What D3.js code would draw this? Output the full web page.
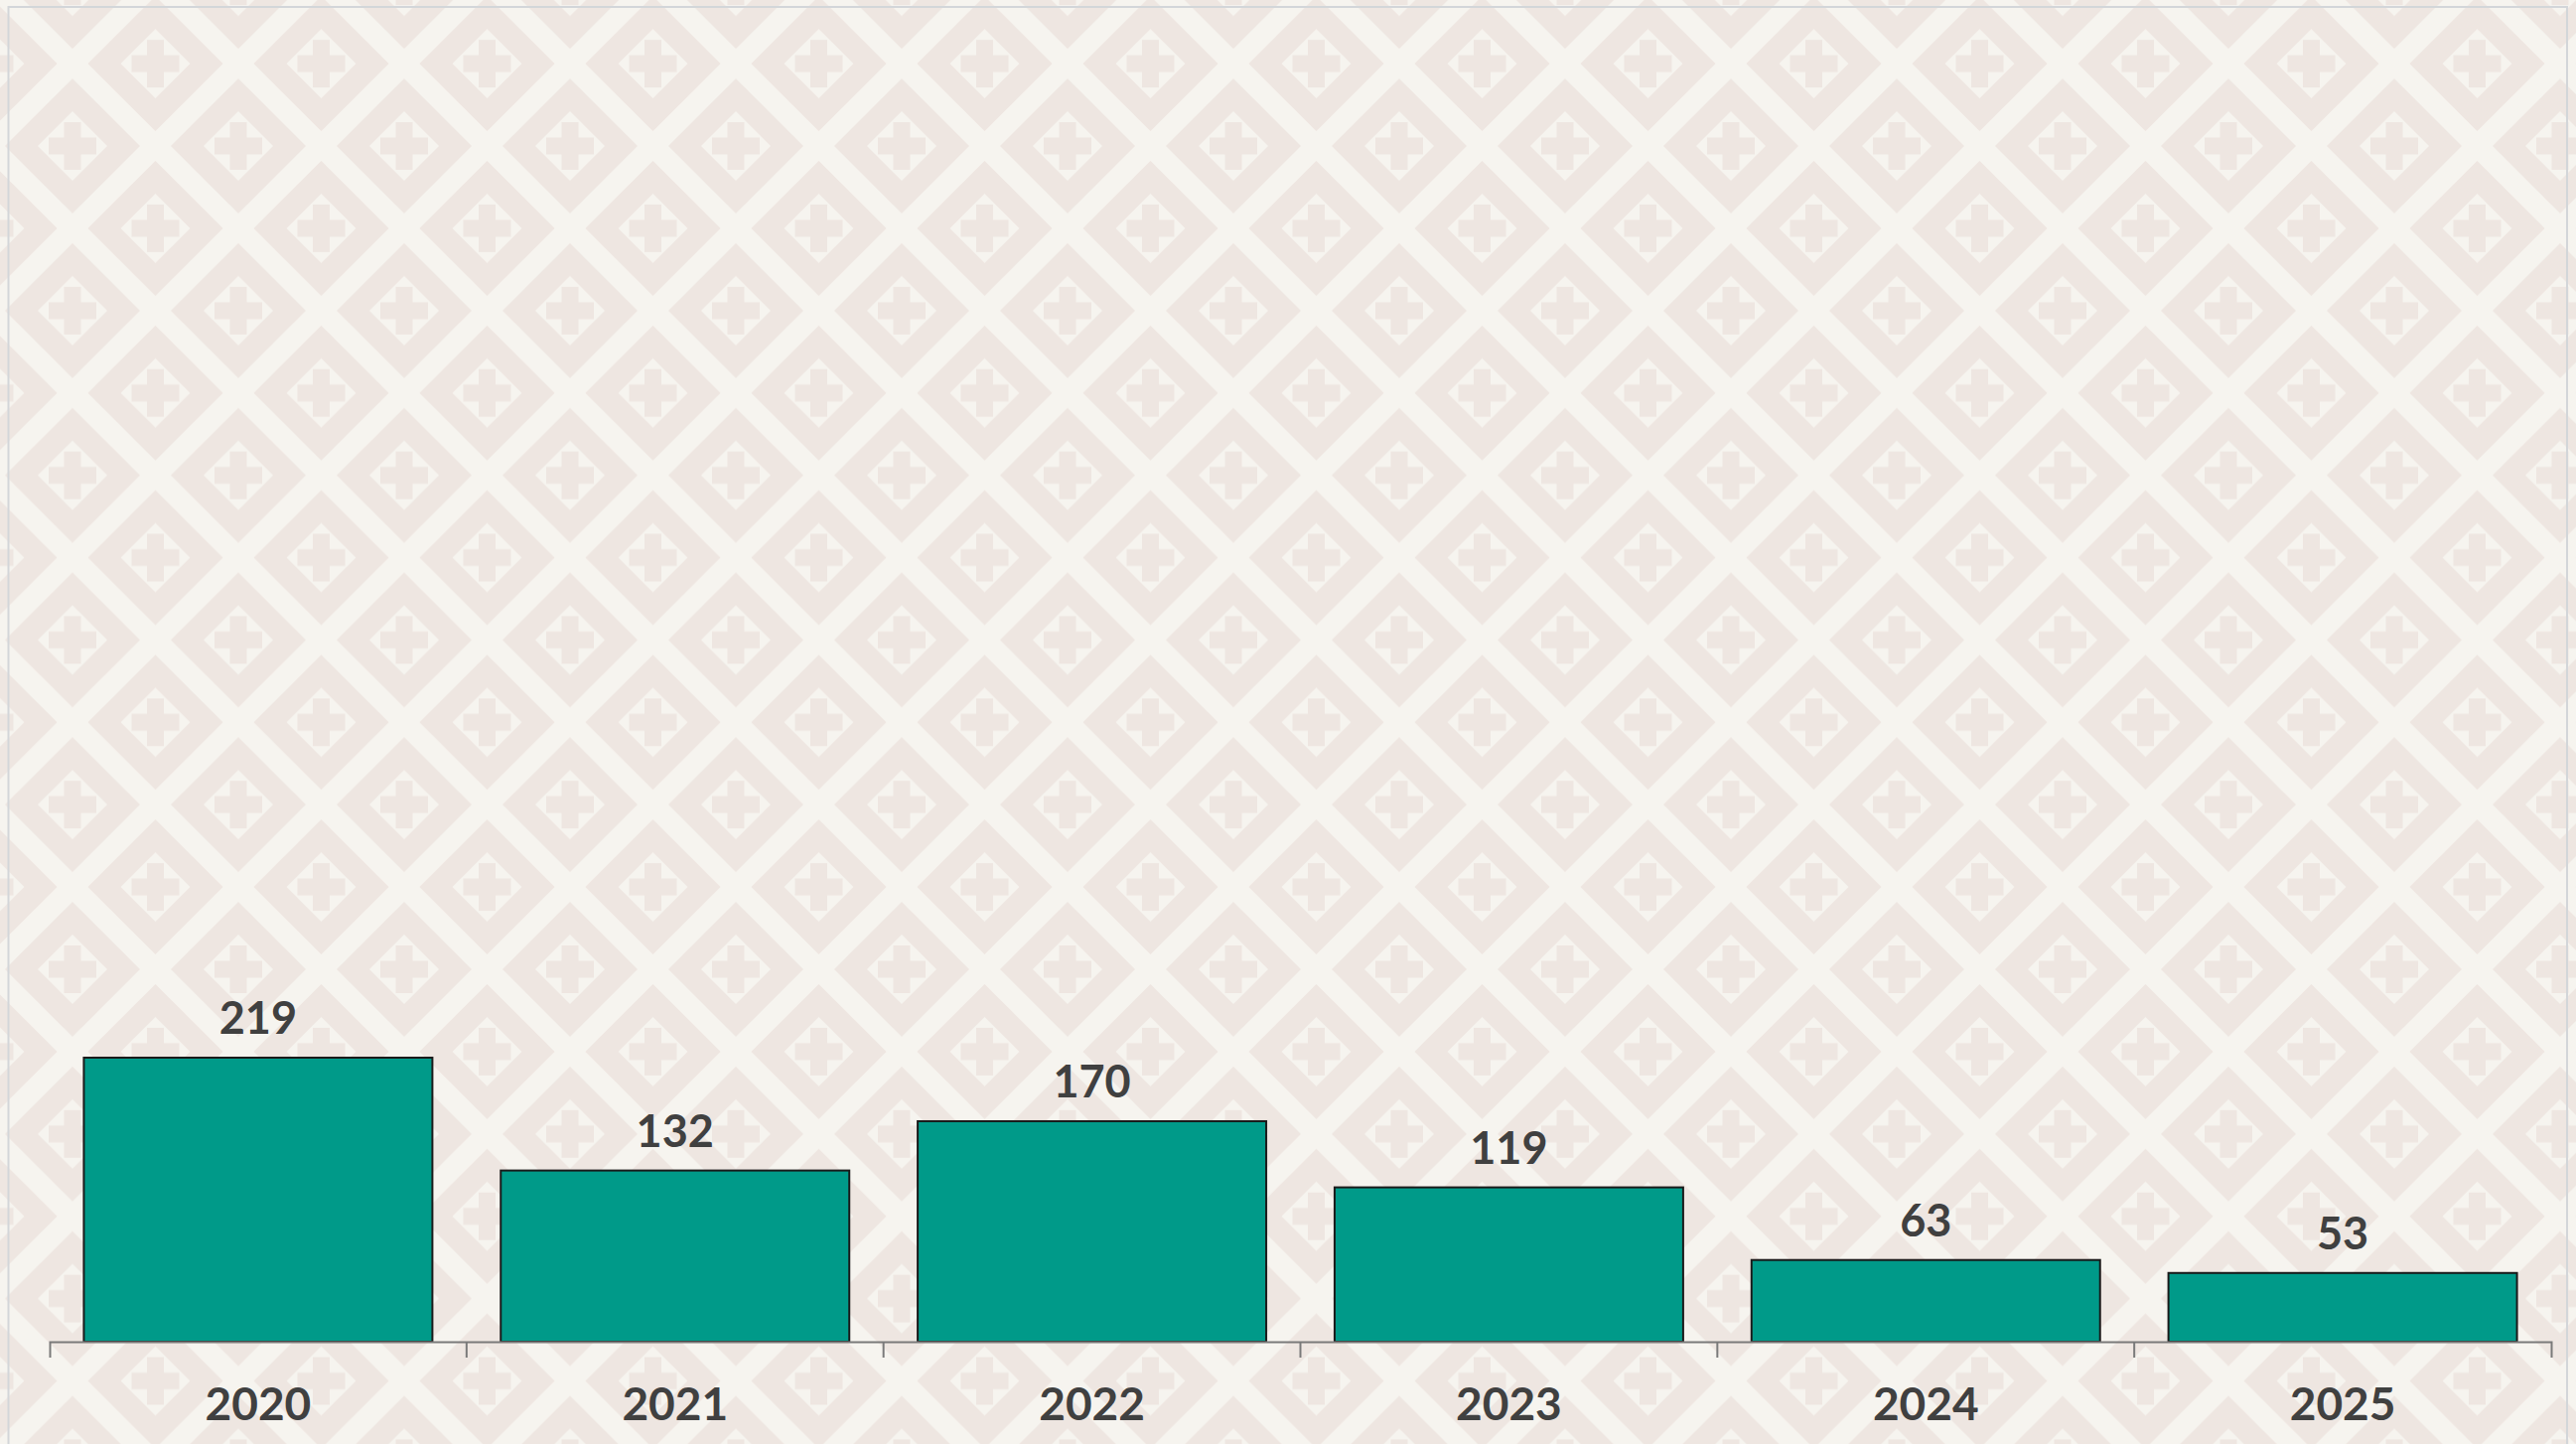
<!DOCTYPE html>
<html>
<head>
<meta charset="utf-8">
<script src="https://cdn.jsdelivr.net/npm/d3@7"></script>
<style>
	html, body { margin: 0; padding: 0; background: #f6f4ef; }
	svg { display: block; }
	text { font-family: Lato, "Open Sans", sans-serif; font-weight: 700; fill: #404040; }
</style>
</head>
<body>
<script>
var years = ["2020", "2021", "2022", "2023", "2024", "2025"];
var counts = [219, 132, 170, 119, 63, 53];
var yMax = 1000;

var W = 2594, H = 1454;
var margin = {top: 45, right: 25, bottom: 103, left: 50},
	width = W - margin.left - margin.right,
	height = H - margin.top - margin.bottom;

var data = years.map(function (y, i) { return {year: y, count: counts[i]}; });

var x = d3.scaleBand().domain(years).range([0, width]).padding(0);
var y = d3.scaleLinear().domain([0, yMax]).range([height, 0]);
var inset = x.step() * 0.082;

var svg = d3.select("body").append("svg")
	.attr("width", W)
	.attr("height", H);

// tiled diamond / cross background
var tw = 167, th = 165.8;
var pat = svg.append("defs").append("pattern")
	.attr("id", "tiles")
	.attr("patternUnits", "userSpaceOnUse")
	.attr("x", 73).attr("y", 147 - th)
	.attr("width", tw).attr("height", th);

pat.append("rect").attr("width", tw).attr("height", th).attr("fill", "#f6f4ef");

var centers = [[0, 0], [tw, 0], [0, th], [tw, th], [tw / 2, th / 2]];
function diamond(cx, cy, r) {
	return "M" + (cx - r) + "," + cy + "L" + cx + "," + (cy - r) + "L" + (cx + r) + "," + cy + "L" + cx + "," + (cy + r) + "Z";
}
function cross(cx, cy, a, t) {
	return "M" + (cx - a) + "," + (cy - t) + "H" + (cx - t) + "V" + (cy - a) + "H" + (cx + t) + "V" + (cy - t) +
		"H" + (cx + a) + "V" + (cy + t) + "H" + (cx + t) + "V" + (cy + a) + "H" + (cx - t) + "V" + (cy + t) + "H" + (cx - a) + "Z";
}
pat.selectAll("path.ring")
	.data(centers)
	.enter().append("path")
	.attr("class", "ring")
	.attr("fill", "#eee6e1")
	.attr("fill-rule", "evenodd")
	.attr("d", function (c) { return diamond(c[0], c[1], 68) + diamond(c[0], c[1], 35); });
pat.selectAll("path.cross")
	.data(centers)
	.enter().append("path")
	.attr("class", "cross")
	.attr("fill", "#eee6e1")
	.attr("d", function (c) { return cross(c[0], c[1], 24, 8.5); });

svg.append("rect")
	.attr("width", W).attr("height", H)
	.attr("fill", "url(#tiles)");

// frame
svg.append("rect")
	.attr("x", 8.5).attr("y", 7)
	.attr("width", 2576.5).attr("height", 1500)
	.attr("fill", "none")
	.attr("stroke", "#d3d6d9")
	.attr("stroke-width", 2);

var g = svg.append("g")
	.attr("transform", "translate(" + margin.left + "," + margin.top + ")");

g.selectAll("rect.bar")
	.data(data)
	.enter().append("rect")
	.attr("class", "bar")
	.attr("x", function (d) { return x(d.year) + inset; })
	.attr("y", function (d) { return y(d.count); })
	.attr("width", x.bandwidth() - 2 * inset)
	.attr("height", function (d) { return height - y(d.count); })
	.attr("fill", "#009a89")
	.attr("stroke", "#1a1a1a")
	.attr("stroke-width", 2);

g.selectAll("text.val")
	.data(data)
	.enter().append("text")
	.attr("class", "val")
	.attr("x", function (d) { return x(d.year) + x.bandwidth() / 2; })
	.attr("y", function (d) { return y(d.count) - 24; })
	.attr("text-anchor", "middle")
	.attr("font-size", 45)
	.text(function (d) { return d.count; });

var axis = g.append("g")
	.attr("transform", "translate(0," + height + ")")
	.call(d3.axisBottom(x).tickSizeInner(0).tickSizeOuter(16));

axis.select(".domain").attr("stroke", "#7a7a7a").attr("stroke-width", 2);
axis.selectAll(".tick line").remove();
axis.selectAll(".tick text")
	.attr("y", 79)
	.attr("dy", null)
	.attr("font-size", 46)
	.attr("font-family", null)
	.attr("fill", "#404040");

axis.selectAll("line.sep")
	.data(years.slice(1))
	.enter().append("line")
	.attr("class", "sep")
	.attr("x1", function (d) { return x(d); })
	.attr("x2", function (d) { return x(d); })
	.attr("y1", 0).attr("y2", 16)
	.attr("stroke", "#7a7a7a")
	.attr("stroke-width", 2);
</script>
</body>
</html>
